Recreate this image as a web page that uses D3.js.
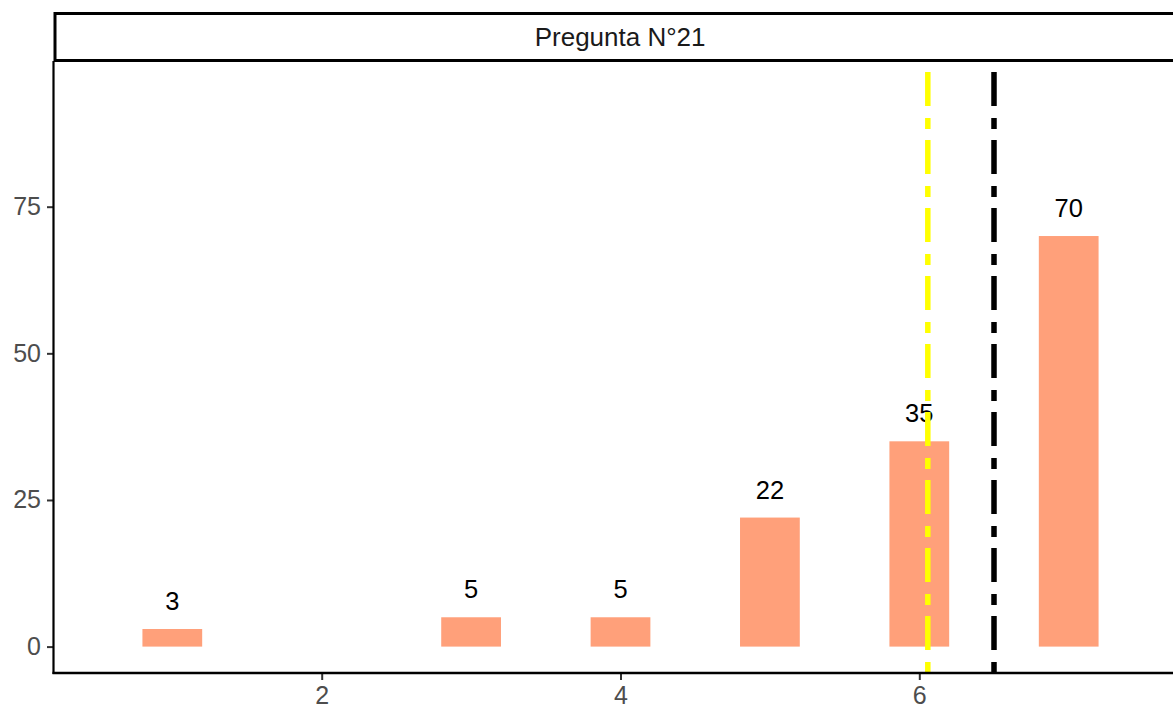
<!DOCTYPE html>
<html>
<head>
<meta charset="utf-8">
<script src="https://cdn.jsdelivr.net/npm/d3@7"></script>
<style>
  body { margin: 0; background: #fff; }
  text { font-family: "Liberation Sans", Arial, sans-serif; }
</style>
</head>
<body>
<div id="chart"></div>
<script>
// bar chart for one question, answers 1..7

const categories = [1, 3, 4, 5, 6, 7];
const counts = [3, 5, 5, 22, 35, 70];
const xTicks = [2, 4, 6];
const yTicks = [0, 25, 50, 75];
const meanValue = 6.057;   // yellow line
const medianValue = 6.5;   // black line
const stripTitle = "Pregunta N°21";

const W = 1173, H = 710;

const svg = d3.select("#chart").append("svg")
    .attr("width", W)
    .attr("height", H);

const x = d3.scaleLinear()
    .domain([2, 6])
    .range([321.7, 919.3]);

const y = d3.scaleLinear()
    .domain([0, 75])
    .range([646.6, 206.7]);

// panel edges in pixels
const panel = {left: 54, right: x(7.78), top: 61, bottom: 673};

const barW = 0.4;

// bars
svg.selectAll("rect.bar")
    .data(categories)
    .enter()
    .append("rect")
        .attr("class", "bar")
        .attr("x", (d) => x(d - barW / 2))
        .attr("width", (d) => x(d + barW / 2) - x(d - barW / 2))
        .attr("y", (d, i) => y(counts[i]))
        .attr("height", (d, i) => y(0) - y(counts[i]))
        .style("fill", "#FFA07A");

// value labels
svg.selectAll("text.lab")
    .data(categories)
    .enter()
    .append("text")
        .attr("class", "lab")
        .attr("x", (d) => x(d))
        .attr("y", (d, i) => y(counts[i]) - 19)
        .attr("text-anchor", "middle")
        .style("font-size", "25.5px")
        .style("fill", "#000")
        .text((d, i) => counts[i]);

// mean / median lines, dashes start from the bottom
const vlines = [
    {v: meanValue, color: "#FFFF00"},
    {v: medianValue, color: "#000000"}
];
svg.selectAll("line.vl")
    .data(vlines)
    .enter()
    .append("line")
        .attr("class", "vl")
        .attr("x1", (d) => x(d.v))
        .attr("x2", (d) => x(d.v))
        .attr("y1", panel.bottom)
        .attr("y2", panel.top)
        .attr("stroke", (d) => d.color)
        .attr("stroke-width", 5.5)
        .attr("stroke-dasharray", "11,12,34,11");

// axes
const yAxis = svg.append("g")
    .attr("transform", "translate(" + panel.left + ",0)")
    .call(d3.axisLeft(y).tickValues(yTicks).tickFormat(d3.format("d")).tickSize(7).tickPadding(6));
const xAxis = svg.append("g")
    .attr("transform", "translate(0," + panel.bottom + ")")
    .call(d3.axisBottom(x).tickValues(xTicks).tickFormat(d3.format("d")).tickSize(7).tickPadding(6));

[yAxis, xAxis].forEach(function(g) {
    g.select(".domain").remove();
    g.selectAll(".tick line").attr("stroke", "#333333").attr("stroke-width", 2);
    g.selectAll(".tick text")
        .style("font-size", "25px")
        .style("font-family", "Liberation Sans, Arial, sans-serif")
        .attr("fill", "#4D4D4D");
});
xAxis.selectAll(".tick text").attr("dy", "0.71em");

// axis lines
svg.append("line")
    .attr("x1", panel.left - 0.5).attr("x2", panel.left - 0.5)
    .attr("y1", panel.top).attr("y2", panel.bottom + 1)
    .attr("stroke", "#000").attr("stroke-width", 2.2);
svg.append("line")
    .attr("x1", panel.left - 1.5).attr("x2", W)
    .attr("y1", panel.bottom).attr("y2", panel.bottom)
    .attr("stroke", "#000").attr("stroke-width", 2.5);

// facet strip
svg.append("rect")
    .attr("x", 55)
    .attr("y", 13.5)
    .attr("width", panel.right - 55)
    .attr("height", 47)
    .attr("fill", "#fff")
    .attr("stroke", "#000")
    .attr("stroke-width", 3);
svg.append("text")
    .attr("x", (55 + panel.right) / 2)
    .attr("y", 37)
    .attr("dy", "0.35em")
    .attr("text-anchor", "middle")
    .style("font-size", "26px")
    .style("fill", "#1A1A1A")
    .text(stripTitle);
</script>
</body>
</html>
